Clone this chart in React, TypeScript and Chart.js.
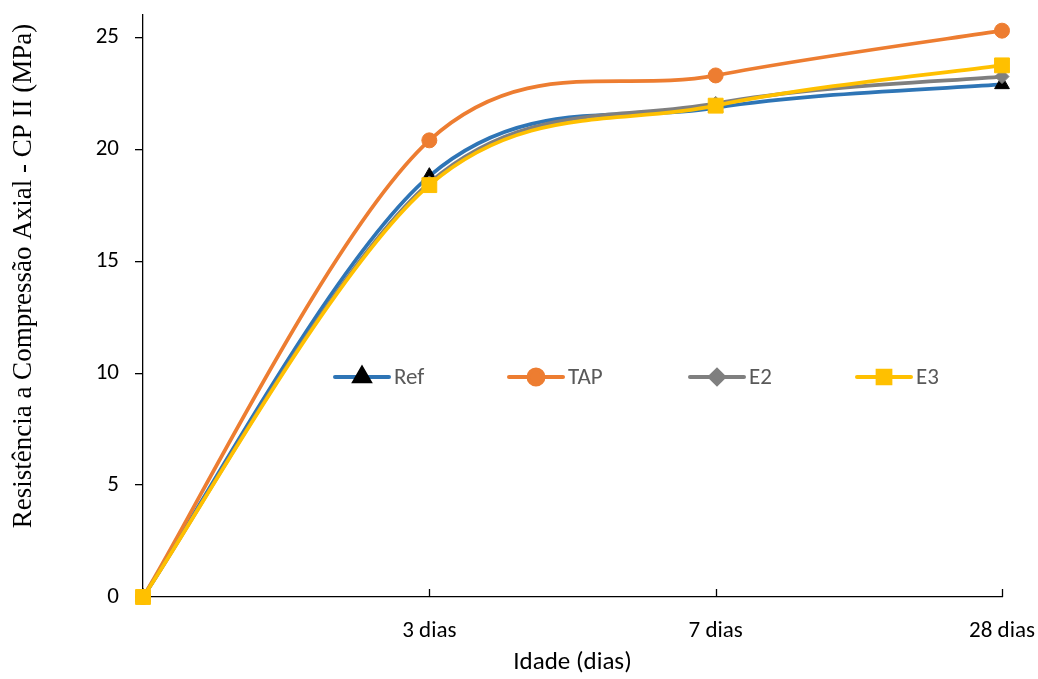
import React, { useEffect, useRef } from "react";
import { Chart, registerables } from "chart.js";
import { drawPoint } from "chart.js/helpers";

Chart.register(...registerables);

const categories = ["", "3 dias", "7 dias", "28 dias"];
const refValues = [0, 18.8, 21.85, 22.9];
const tapValues = [0, 20.4, 23.3, 25.3];
const e2Values = [0, 18.5, 22.05, 23.25];
const e3Values = [0, 18.4, 21.95, 23.75];
const yTicks = [0, 5, 10, 15, 20, 25];
const yTitle = "Resistência a Compressão Axial - CP II (MPa)";
const xTitle = "Idade (dias)";

const sansFamily = "Carlito, Calibri, Lato, sans-serif";
const serifFamily = "'Liberation Serif', 'Times New Roman', serif";
const tickFont = { family: sansFamily, size: 23 };

// Excel-like smoothing: Catmull-Rom control points (tangent = (next - prev) / 6)
const excelSmooth = {
  id: "excelSmooth",
  beforeDatasetDraw(_chart: any, args: any) {
    const meta = args.meta;
    const pts = meta.data;
    const n = pts.length;
    for (let i = 0; i < n; i++) {
      const p = pts[i];
      const prev = pts[Math.max(i - 1, 0)];
      const next = pts[Math.min(i + 1, n - 1)];
      const dx = (next.x - prev.x) / 6;
      const dy = (next.y - prev.y) / 6;
      p.cp1x = p.x - dx;
      p.cp1y = p.y - dy;
      p.cp2x = p.x + dx;
      p.cp2y = p.y + dy;
    }
    if (meta.dataset) meta.dataset._pointsUpdated = true;
  },
};

const legendPlugin = {
  id: "customLegend",
  afterDraw(chart: any, _args: any, opts: any) {
    const ctx = chart.ctx;
    const items = opts.items || [];
    ctx.save();
    items.forEach((it: any, i: number) => {
      const ds = chart.data.datasets[i];
      const x = it.x;
      const y = opts.y;
      ctx.strokeStyle = ds.borderColor;
      ctx.lineWidth = 4;
      ctx.lineCap = "round";
      ctx.beginPath();
      ctx.moveTo(x, y);
      ctx.lineTo(x + 54, y);
      ctx.stroke();
      ctx.fillStyle = ds.pointBackgroundColor;
      ctx.strokeStyle = ds.pointBorderColor;
      drawPoint(ctx, { pointStyle: ds.pointStyle, radius: it.r, borderWidth: 1, rotation: 0 }, x + 27, y);
      ctx.fillStyle = "#595959";
      ctx.font = "23px " + sansFamily;
      ctx.textBaseline = "middle";
      ctx.textAlign = "left";
      ctx.fillText(ds.label, x + 59, y + 1);
    });
    ctx.restore();
  },
};

const xTickPlugin = {
  id: "xInnerTicks",
  afterDraw(chart: any) {
    const ctx = chart.ctx;
    const xs = chart.scales.x;
    const bottom = chart.chartArea.bottom;
    ctx.save();
    ctx.strokeStyle = "#000";
    ctx.lineWidth = 1.3;
    for (let i = 1; i < categories.length; i++) {
      const px = Math.round(xs.getPixelForValue(i)) + 0.5;
      ctx.beginPath();
      ctx.moveTo(px, bottom);
      ctx.lineTo(px, bottom - 8);
      ctx.stroke();
    }
    ctx.restore();
  },
};

const yTitlePlugin = {
  id: "yTitleCustom",
  afterDraw(chart: any, _args: any, opts: any) {
    const ctx = chart.ctx;
    ctx.save();
    ctx.translate(opts.x, opts.y);
    ctx.rotate(-Math.PI / 2);
    ctx.fillStyle = "#000";
    ctx.font = "27px " + serifFamily;
    ctx.textAlign = "center";
    ctx.textBaseline = "middle";
    ctx.fillText(yTitle, 0, 0);
    ctx.restore();
  },
};

export default function App() {
  const canvasRef = useRef<HTMLCanvasElement | null>(null);

  useEffect(() => {
    document.body.style.margin = "0";
    const canvas = canvasRef.current;
    if (!canvas) return;
    const mk = (label: string, data: number[], color: string, style: string, radius: number, ptColor: string, order: number) => ({
      label,
      data,
      borderColor: color,
      backgroundColor: color,
      borderWidth: 3.75,
      pointStyle: style,
      pointRadius: radius,
      pointBackgroundColor: ptColor,
      pointBorderColor: ptColor,
      pointBorderWidth: 1,
      tension: 0.4,
      order,
      clip: false as any,
    });
    const chart = new Chart(canvas, {
      type: "line",
      data: {
        labels: categories,
        datasets: [
          mk("Ref", refValues, "#2E75B6", "triangle", 8.5, "#000000", 4),
          mk("TAP", tapValues, "#ED7D31", "circle", 7.5, "#ED7D31", 3),
          mk("E2", e2Values, "#7F7F7F", "rectRot", 7, "#7F7F7F", 2),
          mk("E3", e3Values, "#FFC000", "rect", 10.5, "#FFC000", 1),
        ],
      },
      plugins: [excelSmooth, legendPlugin, xTickPlugin, yTitlePlugin],
      options: {
        animation: false,
        responsive: false,
        maintainAspectRatio: false,
        layout: { padding: { left: 0, right: 36, top: 15, bottom: 0 } },
        plugins: {
          legend: { display: false },
          tooltip: { enabled: false },
          customLegend: {
            y: 377,
            items: [
              { x: 335, r: 8.5 },
              { x: 509, r: 7.5 },
              { x: 690, r: 7 },
              { x: 857, r: 9 },
            ],
          },
          yTitleCustom: { x: 24, y: 276 },
        } as any,
        scales: {
          x: {
            type: "category",
            offset: false,
            grid: { display: false, drawTicks: false },
            border: { color: "#000", width: 1.3 },
            ticks: { color: "#000", font: tickFont, padding: 20, maxRotation: 0, autoSkip: false },
            title: {
              display: true,
              text: xTitle,
              color: "#000",
              font: { family: sansFamily, size: 25 },
              padding: { top: 0, bottom: 1 },
            },
            afterFit(scale: any) {
              scale.height = 82;
              scale.paddingLeft = 0;
              scale.paddingRight = 0;
            },
          },
          y: {
            min: 0,
            max: 26,
            afterBuildTicks(scale: any) {
              scale.ticks = yTicks.map((v) => ({ value: v }));
            },
            grid: { display: true, drawOnChartArea: false, drawTicks: true, tickLength: 8, color: "#000", lineWidth: 1.3 },
            border: { color: "#000", width: 1.3 },
            ticks: { color: "#000", font: tickFont, padding: 16 },
            title: { display: false },
            afterFit(scale: any) {
              scale.width = 143;
              scale.paddingTop = 0;
              scale.paddingBottom = 0;
            },
          },
        },
      } as any,
    });
    return () => chart.destroy();
  }, []);

  return (
    <div style={{ position: "fixed", left: 0, top: 0, width: 1038, height: 679, background: "#fff" }}>
      <canvas ref={canvasRef} width={1038} height={679} style={{ width: 1038, height: 679 }} />
    </div>
  );
}
